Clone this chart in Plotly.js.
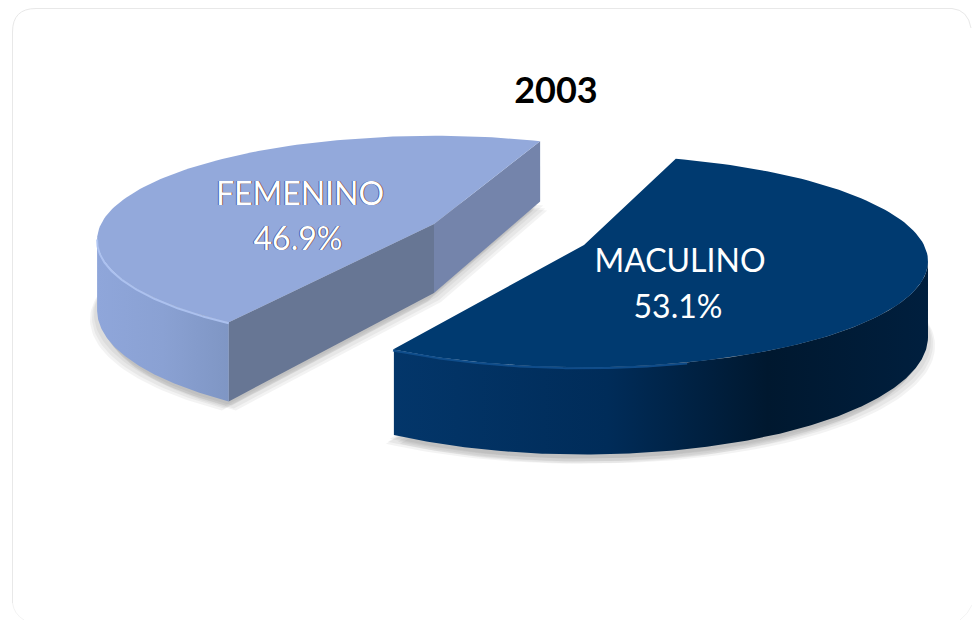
<!DOCTYPE html>
<html><head><meta charset="utf-8">
<script src="https://cdn.plot.ly/plotly-3.0.1.min.js"></script>
<style>html,body{margin:0;padding:0;background:#fff}#chart{width:972px;height:620px}</style>
</head><body><div id="chart"></div>
<script>
// ---- data ----
const categories = ['MACULINO', 'FEMENINO'];
const shares = [53.1, 46.9];
const chartTitle = '2003';

// ---- styles ----
const topColors = ['#003a70', '#93a9db'];
const rimColors = ['#11508f', '#afc4f2'];
const wallScales = [
  [[0,'#03366a'],[0.4,'#002c59'],[0.7,'#00182f'],[1,'#001f3e']],
  [[0,'#8fa6da'],[0.5,'#8aa1d3'],[1,'#7f96c4']]
];
const faceColors = ['#677694', '#7484ab'];
const textFont = 'Lato, Carlito, "Open Sans", sans-serif';

// ---- projection of the tilted disc (drawing units = axis units) ----
const startAngles = [18, 212.5], radii = [340, 333], depths = [74, 69];
const tilt = 0.305, persp = 0.152;
const centres = [[584, 245], [434, 224]];
const namePos = [[680, 264], [300, 197]];
const valuePos = [[678, 310], [298, 242]];

function proj(i, deg, down) {
  const c = centres[i], a = deg * Math.PI / 180, u = Math.sin(a), v = -Math.cos(a);
  const s = 1 / (1 - persp * v);
  return [c[0] + radii[i] * u * s, c[1] + radii[i] * tilt * v * s + (down ? depths[i] * s : 0)];
}
function arc(i, a0, a1, down) {
  const pts = [], n = 120;
  for (let k = 0; k <= n; k++) pts.push(proj(i, a0 + (a1 - a0) * k / n, down));
  return pts;
}
const poly = (pts, extra) => Object.assign({
  type: 'scatter', mode: 'lines', x: pts.map(p => p[0]), y: pts.map(p => p[1]),
  fill: 'toself', line: {width: 0}, hoverinfo: 'skip', showlegend: false
}, extra);

// slice angle ranges derive from the shares
const total = shares.reduce((a, b) => a + b, 0);
const ranges = shares.map((v, i) => [startAngles[i], startAngles[i] + 360 * v / total]);

const traces = [];
// soft ground shadows
ranges.forEach((r, i) => {
  const c = centres[i];
  const low = arc(i, r[0], r[1], true);
  [[-7, 9], [-5, 7], [5, 7], [7, 9], [3, 4], [-3, 4]].forEach(o => {
    const base = low.concat([[c[0], c[1] + depths[i]]]);
    traces.push(poly(base.map(p => [p[0] + o[0], p[1] + o[1]]), {fillcolor: 'rgba(90,90,90,0.07)'}));
  });
});
// femenino first (behind), then maculino
[1, 0].forEach(i => {
  const c = centres[i], r = ranges[i];
  if (i === 1) {
    const cb = [c[0], c[1] + depths[i]];
    traces.push(poly([c, proj(i, r[0], false), proj(i, r[0], true), cb], {fillcolor: faceColors[0]}));
    traces.push(poly([c, proj(i, r[1], false), proj(i, r[1], true), cb], {fillcolor: faceColors[1]}));
  }
  // outer wall: only the part facing the viewer, up to the silhouette
  const front = [];
  for (let a = r[0]; a <= r[1]; a += 0.5) if (-Math.cos(a * Math.PI / 180) >= persp) front.push(a);
  const wallTop = front.map(a => proj(i, a, false));
  const wallLow = front.map(a => proj(i, a, true)).reverse();
  traces.push(poly(wallTop.concat(wallLow), {
    fillgradient: {type: 'horizontal', colorscale: wallScales[i]}
  }));
  // top surface
  traces.push(poly([c].concat(arc(i, r[0], r[1], false)), {fillcolor: topColors[i]}));
  // bevel highlight
  const rim = i === 0 ? arc(i, 165, r[1], false) : arc(i, r[0], 262, false);
  traces.push({type: 'scatter', mode: 'lines', x: rim.map(p => p[0]), y: rim.map(p => p[1] + 1),
    line: {color: rimColors[i], width: 2}, hoverinfo: 'skip', showlegend: false, opacity: 0.9});
});
// labels
categories.forEach((name, i) => {
  traces.push({type: 'scatter', mode: 'text',
    x: [namePos[i][0], valuePos[i][0]], y: [namePos[i][1], valuePos[i][1]],
    text: [name, shares[i].toFixed(1) + '%'], textposition: 'middle center',
    textfont: {family: textFont, size: 32, color: '#ffffff',
      shadow: i === 1 ? '1px 0 0 rgba(120,70,30,.75), -1px 0 0 rgba(30,70,170,.75)' : 'none'},
    hoverinfo: 'skip', showlegend: false});
});

const layout = {
  width: 972, height: 620, margin: {l: 0, r: 0, t: 0, b: 0},
  paper_bgcolor: '#ffffff', plot_bgcolor: 'rgba(0,0,0,0)', showlegend: false,
  title: {text: chartTitle, x: 556 / 972, xanchor: 'center', y: 1 - 90 / 620, yanchor: 'middle',
    font: {family: textFont, size: 36, color: '#000000', weight: 700}},
  xaxis: {range: [0, 972], visible: false, fixedrange: true},
  yaxis: {range: [620, 0], visible: false, fixedrange: true},
  shapes: [
    {type: 'path', xref: 'x', yref: 'y', layer: 'below',
     path: 'M 12.5 603 L 12.5 32 Q 12.5 8.5 36 8.5 L 952 8.5 Q 968 10 971 28',
     line: {color: '#e8e8e8', width: 1}},
    {type: 'path', xref: 'x', yref: 'y', layer: 'below',
     path: 'M 12.5 603 Q 14 614 24 620', line: {color: '#f3f3f3', width: 1}},
    {type: 'path', xref: 'x', yref: 'y', layer: 'below',
     path: 'M 972 605 Q 968 614 960 620', line: {color: '#f3f3f3', width: 1}}
  ]
};
Plotly.newPlot('chart', traces, layout, {displayModeBar: false, staticPlot: true});
</script></body></html>
